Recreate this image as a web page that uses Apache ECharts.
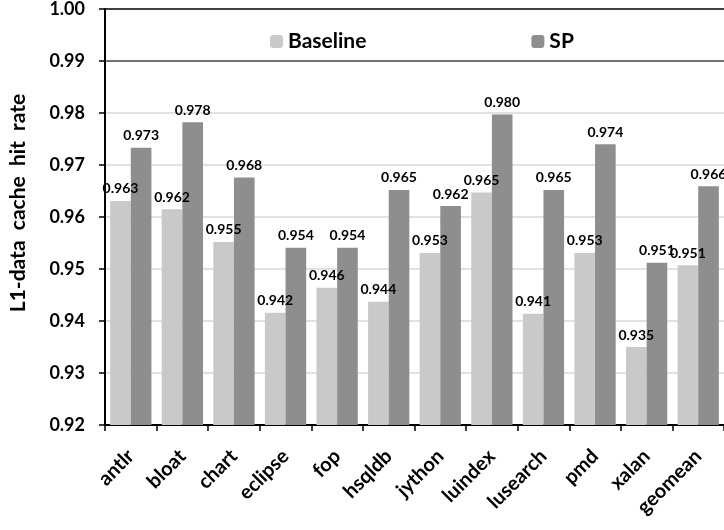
<!DOCTYPE html>
<html><head><meta charset="utf-8">
<script src="https://cdn.jsdelivr.net/npm/echarts@6/dist/echarts.min.js"></script>
<style>html,body{margin:0;padding:0;background:#fff}#c{width:724px;height:530px}</style>
</head><body><div id="c"></div>
<script>
const categories = ['antlr','bloat','chart','eclipse','fop','hsqldb','jython','luindex','lusearch','pmd','xalan','geomean'];
const baseline = [0.9631,0.9615,0.9552,0.9416,0.9464,0.9437,0.9531,0.9647,0.9414,0.9531,0.9350,0.9507];
const sp = [0.9733,0.9782,0.9676,0.9541,0.9541,0.9652,0.9621,0.9797,0.9652,0.9740,0.9512,0.9659];
const seriesNames = ['Baseline','SP'];
const yTitle = 'L1-data  cache  hit  rate';

const FONT = 'Lato';
const chart = echarts.init(document.getElementById('c'), null, {renderer:'canvas'});
const gridColors = ['#d9d9d9','#d9d9d9','#d9d9d9','#d9d9d9','#d9d9d9','#d9d9d9','#d9d9d9','#404040','#000000'];
const lbl = {show:true, position:'top', distance:5, color:'#000', fontFamily:FONT, fontWeight:'bold', fontSize:14,
  formatter: p => p.value.toFixed(3)};
chart.setOption({
  animation:false,
  grid:{left:100, right:-6, top:9, bottom:105, containLabel:false},
  legend:{data:seriesNames, left:265, top:26, itemWidth:13, itemHeight:13, itemGap:165,
    textStyle:{fontFamily:FONT, fontWeight:'bold', fontSize:21, color:'#000'}},
  xAxis:{type:'category', data:categories,
    axisLine:{lineStyle:{color:'#000', width:2}},
    axisTick:{show:true, inside:false, length:6, lineStyle:{color:'#000', width:1.5}},
    axisLabel:{rotate:45, margin:28, color:'#000', fontFamily:FONT, fontWeight:'bold', fontSize:20, interval:0}},
  yAxis:{type:'value', min:0.92, max:1.00, interval:0.01,
    name:yTitle, nameLocation:'middle', nameGap:76, nameRotate:90,
    nameTextStyle:{fontFamily:FONT, fontWeight:'bold', fontSize:21, color:'#000', padding:[0,0,0,28]},
    axisLine:{show:true, lineStyle:{color:'#000', width:2}},
    axisTick:{show:true, inside:false, length:6, lineStyle:{color:'#000', width:1.5}},
    axisLabel:{margin:20, color:'#000', fontFamily:FONT, fontWeight:'bold', fontSize:18, formatter:v=>v.toFixed(2)},
    splitLine:{show:true, lineStyle:{color:gridColors, width:1.5}}},
  series:[
    {name:seriesNames[0], type:'bar', data:baseline, barGap:'0%', barCategoryGap:'20%',
      itemStyle:{color:'#c9c9c9'}, label:lbl},
    {name:seriesNames[1], type:'bar', data:sp, barGap:'0%', barCategoryGap:'20%',
      itemStyle:{color:'#8e8e8e'}, label:lbl}
  ]
});
</script></body></html>
